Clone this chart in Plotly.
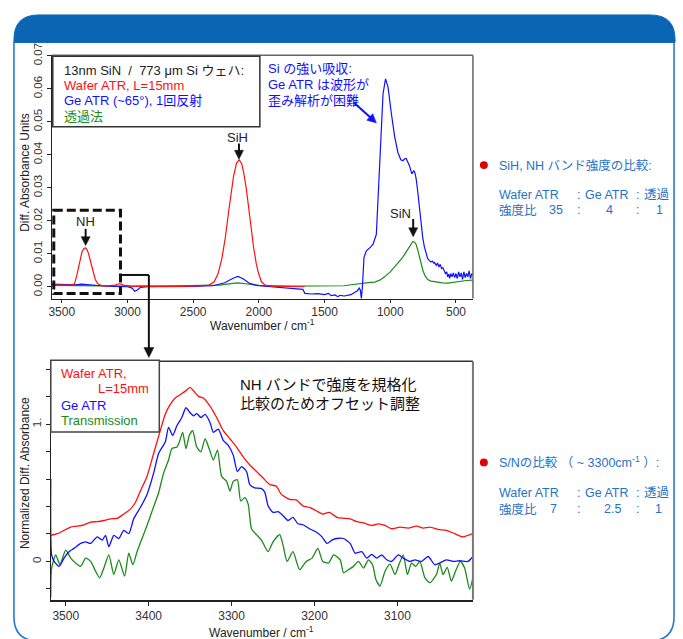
import math
import plotly.graph_objects as go

W, H = 683, 639
FONT = "Arial, 'Liberation Sans', 'Noto Sans CJK JP', sans-serif"

# ---------------- data ----------------
UP_RED = [(3576, 0.0006), (3540, 0.0005), (3500, 0.0006), (3460, 0.0005), (3430, 0.0006),
          (3404, 0.0008), (3385, 0.0035), (3371, 0.0062), (3358, 0.0088), (3346, 0.0106),
          (3332, 0.0115), (3320, 0.0118), (3307, 0.0112), (3295, 0.0099), (3280, 0.0075),
          (3265, 0.0050), (3245, 0.0022), (3227, 0.0010), (3200, 0.0004), (3170, 0.0002),
          (3130, 0.0003), (3095, 0.0005), (3065, 0.0009), (3045, 0.0008), (3025, 0.0004),
          (3000, 0.0002), (2960, 0.0001), (2900, 0.0002), (2800, 0.0001), (2700, 0.0002),
          (2600, 0.0001), (2500, 0.0002), (2420, 0.0003), (2380, 0.0005), (2340, 0.0015),
          (2310, 0.0040), (2280, 0.0089), (2255, 0.0150), (2230, 0.0228), (2210, 0.0290),
          (2192, 0.0337), (2170, 0.0375), (2149, 0.0385), (2130, 0.0372), (2116, 0.0347),
          (2095, 0.0295), (2078, 0.0238), (2060, 0.0175), (2040, 0.0119), (2020, 0.0070),
          (2002, 0.0040), (1980, 0.0015), (1952, 0.0005), (1900, 0.0002), (1800, 0.0001),
          (1700, 0.0000), (1652, 0.0000)]

UP_BLUE = [(3576, 0.0008), (3500, 0.0007), (3400, 0.0006), (3350, 0.0008), (3300, 0.0006),
           (3200, 0.0003), (3100, 0.0001), (3000, 0.0000), (2965, -0.0004), (2945, -0.0014),
           (2925, -0.0010), (2900, -0.0002), (2850, 0.0000), (2700, 0.0000), (2500, 0.0001),
           (2350, 0.0003), (2260, 0.0012), (2200, 0.0025), (2160, 0.0031), (2120, 0.0024),
           (2070, 0.0010), (2000, 0.0003), (1900, 0.0000), (1800, -0.0003), (1700, -0.0006),
           (1665, -0.0008), (1650, -0.0020), (1600, -0.0022), (1550, -0.0021), (1500, -0.0024),
           (1470, -0.0020), (1450, -0.0027), (1420, -0.0025), (1400, -0.0030), (1380, -0.0026),
           (1350, -0.0028), (1300, -0.0024), (1270, -0.0018), (1250, -0.0012), (1236, -0.0004),
           (1228, -0.0010), (1220, -0.0036), (1212, 0.0000), (1200, 0.0089), (1182, 0.0109),
           (1150, 0.0120), (1131, 0.0129), (1106, 0.0159), (1089, 0.0288), (1074, 0.0437),
           (1055, 0.0585), (1036, 0.0630), (1017, 0.0605), (992, 0.0526), (967, 0.0456),
           (942, 0.0407), (920, 0.0385), (904, 0.0382), (890, 0.0388), (879, 0.0389),
           (866, 0.0378), (854, 0.0367), (836, 0.0342), (828, 0.0350), (821, 0.0352),
           (812, 0.0345), (803, 0.0327), (790, 0.0285), (778, 0.0238), (765, 0.0190),
           (753, 0.0149), (740, 0.0120), (727, 0.0099), (715, 0.0085), (702, 0.0079),
           (690, 0.0075), (680, 0.0078), (670, 0.0072), (664, 0.0074), (650, 0.0065),
           (640, 0.0072), (630, 0.0060), (620, 0.0068), (610, 0.0055), (600, 0.0058),
           (589, 0.0050), (580, 0.0040), (570, 0.0045), (563, 0.0030), (555, 0.0038),
           (548, 0.0025), (540, 0.0040), (530, 0.0030), (520, 0.0042), (510, 0.0028),
           (500, 0.0040), (490, 0.0025), (480, 0.0045), (470, 0.0030), (460, 0.0042),
           (450, 0.0022), (440, 0.0045), (430, 0.0028), (420, 0.0040), (410, 0.0030),
           (400, 0.0048), (390, 0.0025), (380, 0.0040), (371, 0.0035)]

UP_GREEN = [(3576, 0.0004), (3400, 0.0003), (3300, 0.0003), (3000, 0.0002), (2800, 0.0002),
            (2500, 0.0003), (2300, 0.0005), (2200, 0.0010), (2160, 0.0012), (2100, 0.0009),
            (2000, 0.0004), (1800, 0.0002), (1500, 0.0002), (1350, 0.0003), (1300, 0.0006),
            (1250, 0.0009), (1200, 0.0012), (1150, 0.0013), (1118, 0.0014), (1080, 0.0020),
            (1043, 0.0030), (1000, 0.0045), (967, 0.0060), (935, 0.0075), (904, 0.0090),
            (880, 0.0105), (853, 0.0124), (840, 0.0133), (828, 0.0137), (815, 0.0135),
            (803, 0.0128), (790, 0.0110), (778, 0.0089), (765, 0.0068), (752, 0.0050),
            (735, 0.0033), (715, 0.0022), (690, 0.0017), (664, 0.0015), (600, 0.0012),
            (563, 0.0011), (500, 0.0015), (462, 0.0018), (420, 0.0019), (371, 0.0020)]

LO_RED = [(3518, 0.190), (3510, 0.202), (3502, 0.226), (3494, 0.250), (3486, 0.257),
          (3478, 0.267), (3470, 0.286), (3462, 0.290), (3454, 0.298), (3446, 0.310),
          (3438, 0.314), (3430, 0.345), (3422, 0.381), (3416, 0.429), (3410, 0.512),
          (3402, 0.619), (3394, 0.786), (3386, 0.952), (3380, 1.071), (3374, 1.143),
          (3368, 1.190), (3362, 1.214), (3356, 1.238), (3350, 1.267), (3346, 1.243),
          (3340, 1.202), (3334, 1.190), (3326, 1.131), (3318, 1.048), (3310, 0.952),
          (3302, 0.893), (3294, 0.833), (3286, 0.762), (3278, 0.702), (3270, 0.655),
          (3262, 0.607), (3254, 0.560), (3246, 0.548), (3240, 0.488), (3230, 0.452),
          (3222, 0.448), (3214, 0.405), (3206, 0.393), (3198, 0.369), (3190, 0.345),
          (3182, 0.357), (3173, 0.321), (3165, 0.314), (3157, 0.310), (3149, 0.290),
          (3141, 0.281), (3131, 0.262), (3123, 0.274), (3115, 0.262), (3107, 0.238),
          (3097, 0.250), (3087, 0.243), (3077, 0.257), (3069, 0.243), (3061, 0.250),
          (3051, 0.233), (3041, 0.226), (3031, 0.202), (3021, 0.179), (3009, 0.202)]

LO_BLUE = [(3518, 0.600), (3517, 0.048), (3514, 0.000), (3508, -0.036), (3502, 0.024),
           (3496, 0.071), (3490, 0.095), (3482, 0.131), (3476, 0.143), (3470, 0.131),
           (3462, 0.179), (3456, 0.155), (3452, 0.190), (3448, 0.107), (3442, 0.190),
           (3436, 0.167), (3430, 0.226), (3424, 0.202), (3418, 0.310), (3410, 0.393),
           (3402, 0.488), (3394, 0.643), (3388, 0.786), (3380, 0.869), (3376, 0.976),
           (3371, 0.917), (3366, 0.988), (3360, 1.048), (3355, 1.119), (3350, 1.083),
           (3346, 1.060), (3342, 1.076), (3337, 1.048), (3332, 1.071), (3326, 1.012),
           (3322, 0.940), (3316, 0.964), (3310, 0.881), (3304, 0.845), (3298, 0.774),
           (3293, 0.655), (3288, 0.690), (3282, 0.655), (3278, 0.560), (3272, 0.536),
           (3264, 0.530), (3260, 0.505), (3256, 0.405), (3250, 0.357), (3244, 0.362),
           (3238, 0.333), (3232, 0.298), (3226, 0.321), (3220, 0.274), (3214, 0.267),
           (3206, 0.238), (3198, 0.214), (3191, 0.179), (3185, 0.131), (3179, 0.155),
           (3173, 0.167), (3165, 0.167), (3157, 0.131), (3151, 0.060), (3143, 0.071),
           (3137, 0.024), (3131, 0.052), (3125, 0.024), (3119, 0.048), (3113, 0.012),
           (3107, 0.000), (3099, 0.048), (3093, 0.024), (3085, 0.000), (3079, 0.012),
           (3071, 0.000), (3063, 0.036), (3055, -0.024), (3049, -0.012), (3041, 0.012),
           (3033, 0.000), (3025, 0.005), (3015, 0.000), (3009, 0.036)]

LO_GREEN = [(3518, -0.260), (3517, -0.048), (3512, 0.048), (3507, -0.024), (3500, 0.083),
            (3494, 0.024), (3488, -0.012), (3482, -0.036), (3476, 0.024), (3470, 0.000),
            (3464, -0.071), (3459, -0.119), (3454, -0.048), (3448, 0.048), (3442, -0.095),
            (3436, 0.012), (3429, -0.107), (3424, 0.060), (3419, -0.024), (3414, 0.071),
            (3408, 0.167), (3402, 0.262), (3395, 0.381), (3388, 0.500), (3382, 0.643),
            (3376, 0.738), (3372, 0.821), (3366, 0.833), (3363, 0.869), (3359, 0.940),
            (3355, 0.821), (3351, 0.917), (3347, 0.952), (3342, 0.833), (3337, 0.798),
            (3332, 0.893), (3327, 0.821), (3322, 0.738), (3317, 0.810), (3312, 0.619),
            (3306, 0.583), (3302, 0.512), (3298, 0.583), (3293, 0.595), (3289, 0.440),
            (3284, 0.464), (3280, 0.417), (3276, 0.238), (3270, 0.195), (3264, 0.155),
            (3256, 0.071), (3250, 0.143), (3242, 0.195), (3238, 0.119), (3233, 0.000),
            (3226, 0.071), (3218, -0.060), (3210, 0.000), (3203, 0.024), (3196, 0.095),
            (3190, 0.000), (3183, -0.012), (3177, 0.048), (3169, 0.012), (3165, -0.083),
            (3159, -0.060), (3153, -0.036), (3147, 0.000), (3141, -0.048), (3135, 0.012),
            (3130, -0.024), (3126, -0.131), (3121, -0.179), (3115, -0.071), (3109, -0.019),
            (3103, -0.095), (3099, -0.036), (3093, 0.048), (3088, -0.095), (3083, -0.012),
            (3078, -0.036), (3073, 0.000), (3067, -0.119), (3061, -0.155), (3053, -0.095),
            (3049, -0.012), (3045, -0.095), (3040, -0.043), (3035, -0.143), (3030, -0.071),
            (3024, 0.000), (3019, -0.048), (3013, -0.202), (3009, -0.119)]

UP_XTICKS = [3500, 3000, 2500, 2000, 1500, 1000, 500]
UP_YTICKS = [0.00, 0.01, 0.02, 0.03, 0.04, 0.05, 0.06, 0.07]
LO_XTICKS = [3500, 3400, 3300, 3200, 3100]
LO_YTICKS = [0.0, 1.0]
LO_YTEXT = ["0", "1."]
LO_YMINOR = [-0.2, 0.2, 0.4, 0.6, 0.8, 1.2, 1.4]

RED, BLUE, GREEN = "#ff1010", "#1010ff", "#1a8a1a"
INFO_BLUE = "#1f72c6"


def X(px):
    return px / W


def Y(py):
    return 1 - py / H


def xy(pairs):
    return [p[0] for p in pairs], [p[1] for p in pairs]


fig = go.Figure()
for data, col in [(UP_GREEN, GREEN), (UP_BLUE, BLUE), (UP_RED, RED)]:
    x, y = xy(data)
    fig.add_trace(go.Scatter(x=x, y=y, mode="lines", line=dict(color=col, width=1.2),
                             xaxis="x", yaxis="y", showlegend=False))
for data, col in [(LO_GREEN, GREEN), (LO_BLUE, BLUE), (LO_RED, RED)]:
    x, y = xy(data)
    fig.add_trace(go.Scatter(x=x, y=y, mode="lines",
                             line=dict(color=col, width=1.3, shape="spline", smoothing=0.6),
                             xaxis="x2", yaxis="y2", showlegend=False))

axfont = dict(family=FONT, size=12, color="#333")
fig.update_layout(
    width=W, height=H, margin=dict(l=0, r=0, t=0, b=0),
    paper_bgcolor="white", plot_bgcolor="white",
    font=dict(family=FONT),
    xaxis=dict(domain=[X(49), X(472)], range=[3576, 371], anchor="y",
               tickvals=UP_XTICKS, ticks="outside", ticklen=3, tickcolor="#222",
               ticklabelstandoff=-1,
               showline=True, linecolor="#222", linewidth=1.2, showgrid=False,
               zeroline=False, tickfont=axfont),
    yaxis=dict(domain=[Y(292), Y(44)], range=[-0.00357, 0.0702], anchor="x",
               tickvals=UP_YTICKS, tickformat=".2f", tickangle=-90, ticks="outside",
               ticklen=4, tickcolor="#222", showline=True, linecolor="#222", linewidth=1.2,
               showgrid=False, zeroline=False, tickfont=dict(family=FONT, size=11.5, color="#333")),
    xaxis2=dict(domain=[X(48), X(472)], range=[3518, 3009], anchor="y2",
                tickvals=LO_XTICKS, ticks="outside", ticklen=4, tickcolor="#222",
                showline=True, linecolor="#222", linewidth=1.5, showgrid=False,
                zeroline=False, tickfont=axfont),
    yaxis2=dict(domain=[Y(599), Y(356)], range=[-0.279, 1.457], anchor="x2",
                tickvals=LO_YTICKS, ticktext=LO_YTEXT, tickangle=-90, ticks="outside",
                ticklen=4, tickcolor="#222", showline=True, linecolor="#222", linewidth=1.2,
                minor=dict(tickmode="array", tickvals=LO_YMINOR, ticks="outside",
                           ticklen=4, tickcolor="#222", showgrid=False),
                showgrid=False, zeroline=False, tickfont=dict(family=FONT, size=11.5, color="#333")),
)

shapes = []


def line(x0, y0, x1, y1, color="#222", width=1.5, dash=None):
    d = dict(type="line", xref="paper", yref="paper", x0=X(x0), y0=Y(y0), x1=X(x1), y1=Y(y1),
             line=dict(color=color, width=width))
    if dash:
        d["line"]["dash"] = dash
    shapes.append(d)


def rect(x0, y0, x1, y1, color="#333", width=1.5, fill=None, dash=None):
    d = dict(type="rect", xref="paper", yref="paper", x0=X(x0), y0=Y(y0), x1=X(x1), y1=Y(y1),
             line=dict(color=color, width=width))
    if fill:
        d["fillcolor"] = fill
    if dash:
        d["line"]["dash"] = dash
    shapes.append(d)


def P(px, py):
    return f"{X(px):.5f},{Y(py):.5f}"


def arrow(x0, y0, x1, y1, color="#111", width=2, hl=9, hw=4.5):
    dx, dy = x1 - x0, y1 - y0
    n = math.hypot(dx, dy)
    ux, uy = dx / n, dy / n
    bx, by = x1 - ux * hl, y1 - uy * hl
    line(x0, y0, bx + ux * 1, by + uy * 1, color=color, width=width)
    px_, py_ = -uy, ux
    path = (f"M {P(x1, y1)} L {P(bx + px_ * hw, by + py_ * hw)} "
            f"L {P(bx - px_ * hw, by - py_ * hw)} Z")
    shapes.append(dict(type="path", xref="paper", yref="paper", path=path,
                       fillcolor=color, line=dict(color=color, width=0.5)))


# outer frame with blue header
hdr = (f"M {P(11,31)} L {P(11,28)} Q {P(11,3)} {P(36,3)} L {P(650,3)} "
       f"Q {P(675,3)} {P(675,28)} L {P(675,31)} Z")
shapes.append(dict(type="path", xref="paper", yref="paper", path=hdr,
                   fillcolor="#0a66b4", line=dict(color="#0a66b4", width=1)))
border = (f"M {P(11,30)} L {P(11,616)} Q {P(11,641)} {P(36,641)} L {P(649,641)} "
          f"Q {P(674,641)} {P(674,616)} L {P(674,30)}")
shapes.append(dict(type="path", xref="paper", yref="paper", path=border,
                   line=dict(color="#1a74cc", width=1.5)))

# plot frames (top / right)
line(49, 44, 472, 44, color="#666", width=1.5)
line(472, 44, 472, 292, color="#666", width=1.5)
line(48, 356, 472, 356, color="#333", width=1.5)
line(472, 356, 472, 599, color="#777", width=2)

# legend boxes
rect(50, 45, 258, 117, color="#333", width=1.5, fill="white")
rect(48, 355, 157, 428, color="#444", width=1.5, fill="white")

# NH dashed box and connector
rect(51, 202, 118, 287, color="#111", width=3, dash="9px,4px")
line(118, 268, 146.5, 268, color="#111", width=2)
arrow(146.5, 268, 146.5, 352, color="#111", width=2, hl=10, hw=5)

# peak arrows
arrow(237, 134, 237, 150)
arrow(83, 221, 83, 238)
arrow(412, 211, 412, 229)
arrow(352, 92, 375, 113, color=BLUE, width=2)

# red dots
for cy in (156, 459):
    shapes.append(dict(type="circle", xref="paper", yref="paper", x0=X(479), x1=X(487),
                       y0=Y(cy - 4), y1=Y(cy + 4), fillcolor="#e00000",
                       line=dict(color="#e00000", width=0)))

fig.update_layout(shapes=shapes)

ann = []


def txt(px, py, s, color="#222", size=13, xanchor="left", yanchor="middle", angle=0):
    ann.append(dict(x=X(px), y=Y(py), xref="paper", yref="paper", text=s, showarrow=False,
                    font=dict(color=color, size=size, family=FONT), xanchor=xanchor,
                    yanchor=yanchor, textangle=angle))


# upper legend text
txt(59, 60, "13nm SiN  /  773 μm Si ウェハ:", "#222", 13)
txt(59, 75, "Wafer ATR, L=15mm", RED, 13)
txt(59, 90, "Ge ATR (~65°), 1回反射", BLUE, 13)
txt(59, 106, "透過法", GREEN, 13)

# Si absorption note
txt(264, 58, "Si の強い吸収:", BLUE, 13)
txt(264, 74, "Ge ATR は波形が", BLUE, 13)
txt(264, 90, "歪み解析が困難", BLUE, 13)

# peak labels
txt(236, 128, "SiH", "#222", 13, xanchor="center")
txt(83, 214, "NH", "#222", 13, xanchor="center")
txt(399, 205, "SiN", "#222", 13, xanchor="center")

# axis titles
txt(22, 163, "Diff. Absorbance Units", "#222", 12, xanchor="center", angle=-90)
txt(261, 319, "Wavenumber / cm<sup>-1</sup>", "#222", 12, xanchor="center")
txt(22, 470, "Normalized Diff. Absorbance", "#222", 12, xanchor="center", angle=-90)
txt(260, 632, "Wavenumber / cm<sup>-1</sup>", "#222", 12, xanchor="center")

# lower legend
txt(56, 368, "Wafer ATR,", RED, 13)
txt(149, 384, "L=15mm", RED, 13, xanchor="right")
txt(56, 401, "Ge ATR", BLUE, 13)
txt(56, 416, "Transmission", GREEN, 13)

# lower note
txt(236, 380, "NH バンドで強度を規格化", "#111", 15)
txt(236, 399, "比較のためオフセット調整", "#111", 15)

# right info blocks
txt(496, 156, "SiH, NH バンド強度の比較:", INFO_BLUE, 12.5)
txt(496, 187, "Wafer ATR", INFO_BLUE, 12.5)
txt(578, 187, ":", INFO_BLUE, 12.5, xanchor="center")
txt(583, 187, "Ge ATR", INFO_BLUE, 12.5)
txt(637, 187, ":", INFO_BLUE, 12.5, xanchor="center")
txt(642, 187, "透過", INFO_BLUE, 12.5)
txt(496, 202, "強度比", INFO_BLUE, 12.5)
txt(555, 202, "35", INFO_BLUE, 12.5, xanchor="center")
txt(578, 202, ":", INFO_BLUE, 12.5, xanchor="center")
txt(609, 202, "4", INFO_BLUE, 12.5, xanchor="center")
txt(637, 202, ":", INFO_BLUE, 12.5, xanchor="center")
txt(659, 202, "1", INFO_BLUE, 12.5, xanchor="center")

txt(496, 459, "S/Nの比較 （ ~ 3300cm<sup>-1</sup> ）:", INFO_BLUE, 12.5)
txt(496, 490, "Wafer ATR", INFO_BLUE, 12.5)
txt(578, 490, ":", INFO_BLUE, 12.5, xanchor="center")
txt(583, 490, "Ge ATR", INFO_BLUE, 12.5)
txt(637, 490, ":", INFO_BLUE, 12.5, xanchor="center")
txt(642, 490, "透過", INFO_BLUE, 12.5)
txt(496, 507, "強度比", INFO_BLUE, 12.5)
txt(553, 507, "7", INFO_BLUE, 12.5, xanchor="center")
txt(578, 507, ":", INFO_BLUE, 12.5, xanchor="center")
txt(612, 507, "2.5", INFO_BLUE, 12.5, xanchor="center")
txt(637, 507, ":", INFO_BLUE, 12.5, xanchor="center")
txt(658, 507, "1", INFO_BLUE, 12.5, xanchor="center")

fig.update_layout(annotations=ann)
fig.write_html("out.html")
